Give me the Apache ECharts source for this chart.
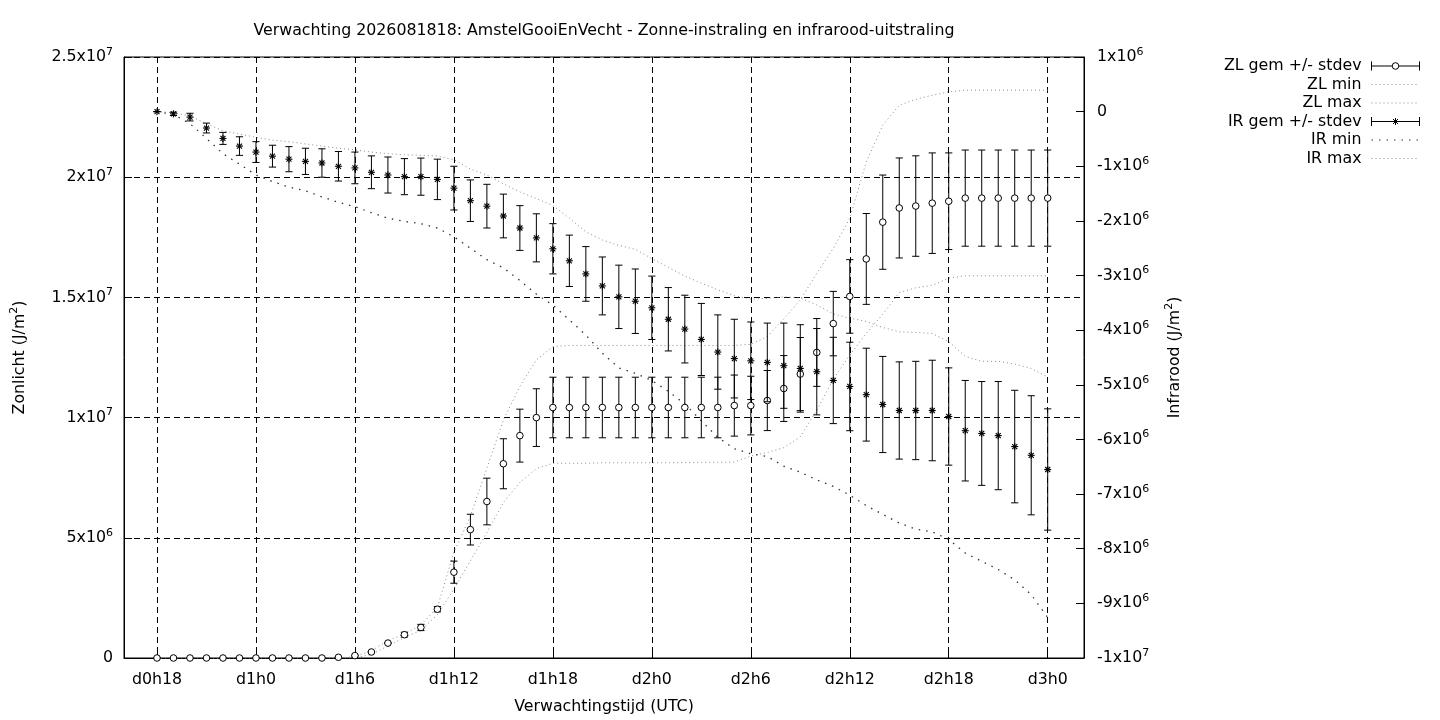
<!DOCTYPE html>
<html>
<head>
<meta charset="utf-8">
<script src="https://cdn.jsdelivr.net/npm/echarts@6/dist/echarts.min.js"></script>
<style>
html,body{margin:0;padding:0;background:#fff;}
#chart{width:1440px;height:720px;}
</style>
</head>
<body>
<div id="chart"></div>
<script>
// Forecast hours (hours since d0h0)
const hours = [18,19,20,21,22,23,24,25,26,27,28,29,30,31,32,33,34,35,36,37,38,39,40,41,42,43,44,45,
  46,47,48,49,50,51,52,53,54,55,56,57,58,59,60,61,62,63,64,65,66,67,68,69,70,71,72];
const tickHours = [18,24,30,36,42,48,54,60,66,72];

// Zonlicht (units of 10^6 J/m2)
const zlMean = [0,0,0,0,0,0,0,0,0,0,0,0.03,0.1,0.25,0.62,0.97,1.27,2.03,3.57,5.34,6.51,8.08,9.25,10.0,
  10.42,10.42,10.42,10.42,10.42,10.42,10.42,10.42,10.42,10.42,10.42,10.5,10.5,10.71,11.21,11.81,12.71,13.91,
  15.04,16.6,18.13,18.72,18.8,18.92,19.0,19.13,19.13,19.13,19.13,19.13,19.13];
const zlStd = [0,0,0,0,0,0,0,0,0,0,0,0.02,0.02,0.02,0.02,0.1,0.13,0.11,0.46,0.64,0.97,1.04,1.1,1.2,
  1.26,1.26,1.26,1.26,1.26,1.26,1.26,1.26,1.26,1.26,1.26,1.27,1.22,1.25,1.37,1.52,1.41,1.34,
  1.53,1.89,1.96,2.08,2.09,2.09,2.01,2.0,2.0,2.0,2.0,2.0,2.0];
const zlMin = [0,0,0,0,0,0,0,0,0,0,0,0,0,0.15,0.5,0.85,1.15,1.8,2.87,4.04,5.22,6.47,7.3,7.88,
  8.1,8.1,8.1,8.12,8.12,8.12,8.12,8.12,8.13,8.14,8.14,8.15,8.4,8.55,8.75,9.2,10.3,11.6,
  12.6,13.5,14.3,15.2,15.4,15.5,15.8,15.9,15.9,15.9,15.9,15.9,15.9];
const zlMax = [0,0,0,0,0,0,0,0,0,0,0,0,0.05,0.3,0.72,1.0,1.38,2.1,4.4,5.9,7.9,9.9,11.3,12.4,
  12.95,13.0,13.0,13.0,13.0,13.0,13.0,13.0,13.0,13.0,13.0,13.0,13.05,13.37,14.1,14.9,16.0,17.04,
  18.29,20.64,22.16,23.0,23.24,23.41,23.55,23.62,23.62,23.62,23.62,23.62,23.62];

// Infrarood (units of 10^6 J/m2)
const irMean = [0,-0.04,-0.10,-0.30,-0.49,-0.63,-0.74,-0.815,-0.87,-0.91,-0.94,-1.0,-1.03,-1.11,-1.16,-1.19,-1.19,-1.24,
  -1.40,-1.63,-1.73,-1.91,-2.13,-2.31,-2.51,-2.73,-2.97,-3.19,-3.39,-3.47,-3.59,-3.80,-3.98,-4.17,-4.40,
  -4.52,-4.56,-4.59,-4.65,-4.70,-4.76,-4.92,-5.03,-5.18,-5.36,-5.47,-5.47,-5.47,-5.58,-5.84,-5.89,-5.93,-6.13,-6.29,-6.55];
const irStd = [0,0.03,0.07,0.09,0.11,0.17,0.19,0.2,0.23,0.24,0.26,0.27,0.29,0.30,0.33,0.33,0.34,0.37,
  0.40,0.38,0.40,0.40,0.41,0.44,0.46,0.47,0.50,0.53,0.58,0.59,0.58,0.58,0.62,0.66,0.68,
  0.72,0.71,0.72,0.78,0.80,0.79,0.79,0.81,0.85,0.88,0.89,0.90,0.92,0.89,0.92,0.95,0.99,1.03,1.09,1.11];
const irMin = [0,-0.05,-0.22,-0.49,-0.77,-0.96,-1.16,-1.28,-1.38,-1.45,-1.56,-1.66,-1.74,-1.85,-1.95,-2.01,-2.05,-2.13,
  -2.29,-2.50,-2.71,-2.86,-3.09,-3.34,-3.54,-3.81,-4.09,-4.42,-4.69,-4.79,-4.92,-5.12,-5.35,-5.66,-5.96,
  -6.17,-6.26,-6.31,-6.49,-6.60,-6.74,-6.86,-7.02,-7.21,-7.37,-7.53,-7.64,-7.69,-7.83,-8.08,-8.23,-8.38,-8.57,-8.84,-9.26];
const irMax = [0,-0.02,-0.08,-0.22,-0.35,-0.41,-0.47,-0.52,-0.55,-0.59,-0.63,-0.67,-0.70,-0.74,-0.77,-0.79,-0.80,-0.81,
  -0.88,-1.05,-1.16,-1.32,-1.47,-1.59,-1.72,-1.95,-2.20,-2.35,-2.45,-2.52,-2.69,-2.85,-3.01,-3.14,-3.26,
  -3.37,-3.43,-3.42,-3.39,-3.41,-3.54,-3.70,-3.78,-3.84,-3.95,-4.03,-4.04,-4.06,-4.21,-4.48,-4.57,-4.57,-4.62,-4.70,-4.86];

const FONT = 'DejaVu Sans';
const FS = 15.8;
const SUPSTYLE = {s: {fontFamily: FONT, fontSize: 11, color: '#000', padding: [0, 0, 10, 0]}};
// values are in units of 10^6; format like gnuplot "2.5x10^7"
function sciLabel(v){
  if (Math.abs(v) < 1e-9) return '0';
  const e = Math.floor(Math.log10(Math.abs(v)) + 1e-9);
  const m = +(v / Math.pow(10, e)).toFixed(2);
  return m + 'x10{s|' + (e + 6) + '}';
}
function hourLabel(h){ return 'd' + Math.floor(h / 24) + 'h' + (h % 24); }

function pack(mean, std){ return hours.map((h, i) => [h, mean[i], std[i]]); }
function pairs(vals){ return hours.map((h, i) => [h, vals[i]]); }

const CAP = 3.6;
function errorBarItem(marker){
  return function(params, api){
    const x = api.value(0), y = api.value(1), e = api.value(2);
    const c = api.coord([x, y]);
    const t = api.coord([x, y + e]);
    const b = api.coord([x, y - e]);
    const ls = {stroke: '#000', lineWidth: 1};
    const children = [
      {type:'line', shape:{x1:c[0], y1:t[1], x2:c[0], y2:b[1]}, style: ls},
      {type:'line', shape:{x1:c[0]-CAP, y1:t[1], x2:c[0]+CAP, y2:t[1]}, style: ls},
      {type:'line', shape:{x1:c[0]-CAP, y1:b[1], x2:c[0]+CAP, y2:b[1]}, style: ls}
    ];
    if (marker === 'circle') {
      children.push({type:'circle', shape:{cx:c[0], cy:c[1], r:3.3}, style:{fill:'#fff', stroke:'#000', lineWidth:1}});
    } else {
      const s = 3.5, d = 2.5;
      const ss = {stroke: '#000', lineWidth: 1.1};
      children.push({type:'line', shape:{x1:c[0]-s, y1:c[1], x2:c[0]+s, y2:c[1]}, style: ss});
      children.push({type:'line', shape:{x1:c[0], y1:c[1]-s, x2:c[0], y2:c[1]+s}, style: ss});
      children.push({type:'line', shape:{x1:c[0]-d, y1:c[1]-d, x2:c[0]+d, y2:c[1]+d}, style: ss});
      children.push({type:'line', shape:{x1:c[0]-d, y1:c[1]+d, x2:c[0]+d, y2:c[1]-d}, style: ss});
    }
    return {type:'group', children};
  };
}

const iconCircle = 'path://M0 0L0 9M0 4.5L20.7 4.5M27.3 4.5L48 4.5M48 0L48 9M20.7 4.5A3.3 3.3 0 1 0 27.3 4.5A3.3 3.3 0 1 0 20.7 4.5';
const iconStar = 'path://M0 0L0 9M0 4.5L48 4.5M48 0L48 9M24 1L24 8M21.5 2L26.5 7M21.5 7L26.5 2';
const hiddenSymbol = {color: 'transparent', borderWidth: 0, opacity: 0};

const chart = echarts.init(document.getElementById('chart'));
chart.setOption({
  animation: false,
  backgroundColor: '#fff',
  textStyle: {fontFamily: FONT, color: '#000'},
  title: {
    text: 'Verwachting 2026081818: AmstelGooiEnVecht - Zonne-instraling en infrarood-uitstraling',
    left: 604, top: 23, textAlign: 'center', padding: 0,
    textStyle: {fontFamily: FONT, fontSize: FS, fontWeight: 'normal', color: '#000'}
  },
  legend: {
    orient: 'vertical', right: 20, top: 57, align: 'right', padding: 0,
    itemWidth: 48, itemHeight: 9, itemGap: 0.5, selectedMode: false,
    textStyle: {fontFamily: FONT, fontSize: FS, color: '#000', lineHeight: 18, padding: [0, 5, 0, 0]},
    lineStyle: {width: 1},
    data: [
      {name: 'ZL gem +/- stdev', icon: iconCircle, itemStyle: {color: '#fff', borderColor: '#000', borderWidth: 1}},
      {name: 'ZL min', itemStyle: hiddenSymbol},
      {name: 'ZL max', itemStyle: hiddenSymbol},
      {name: 'IR gem +/- stdev', icon: iconStar, itemStyle: {color: '#fff', borderColor: '#000', borderWidth: 1}},
      {name: 'IR min', itemStyle: hiddenSymbol},
      {name: 'IR max', itemStyle: hiddenSymbol}
    ]
  },
  grid: {left: 124, right: 356, top: 57, bottom: 61, show: true, borderColor: '#000', borderWidth: 1, backgroundColor: 'transparent'},
  xAxis: {
    type: 'value', min: 16, max: 74.2,
    name: 'Verwachtingstijd (UTC)', nameLocation: 'middle', nameGap: 41,
    nameTextStyle: {fontFamily: FONT, fontSize: FS, color: '#000'},
    axisLine: {show: true, onZero: false, lineStyle: {color: '#000', width: 1}},
    axisTick: {show: true, inside: true, length: 8, customValues: tickHours, lineStyle: {color: '#000'}},
    axisLabel: {show: true, margin: 14, customValues: tickHours, formatter: hourLabel, fontFamily: FONT, fontSize: FS, color: '#000'},
    splitLine: {show: true, lineStyle: {color: '#000', width: 1, type: [6, 4]}}
  },
  yAxis: [
    {
      type: 'value', position: 'left', min: 0, max: 25, interval: 5,
      name: 'Zonlicht (J/m{s|2})', nameLocation: 'middle', nameGap: 94, nameRotate: 90,
      nameTextStyle: {fontFamily: FONT, fontSize: FS, color: '#000', rich: SUPSTYLE},
      axisLine: {show: true, onZero: false, lineStyle: {color: '#000', width: 1}},
      axisTick: {show: true, inside: true, length: 8, lineStyle: {color: '#000'}},
      axisLabel: {margin: 11, formatter: sciLabel, fontFamily: FONT, fontSize: FS, color: '#000', rich: SUPSTYLE},
      splitLine: {show: true, lineStyle: {color: '#000', width: 1, type: [6, 4]}}
    },
    {
      type: 'value', position: 'right', min: -10, max: 1, interval: 1,
      name: 'Infrarood (J/m{s|2})', nameLocation: 'middle', nameGap: 80, nameRotate: 90,
      nameTextStyle: {fontFamily: FONT, fontSize: FS, color: '#000', rich: SUPSTYLE},
      axisLine: {show: true, onZero: false, lineStyle: {color: '#000', width: 1}},
      axisTick: {show: true, inside: true, length: 8, lineStyle: {color: '#000'}},
      axisLabel: {margin: 13, formatter: sciLabel, fontFamily: FONT, fontSize: FS, color: '#000', rich: SUPSTYLE},
      splitLine: {show: false}
    }
  ],
  series: [
    {
      name: 'ZL gem +/- stdev', type: 'custom', xAxisIndex: 0, yAxisIndex: 0,
      renderItem: errorBarItem('circle'), encode: {x: 0, y: 1},
      itemStyle: {color: '#fff', borderColor: '#000'},
      data: pack(zlMean, zlStd), z: 3
    },
    {
      name: 'ZL min', type: 'line', yAxisIndex: 0, symbol: 'none', silent: true,
      itemStyle: {color: '#8a8a8a'},
      lineStyle: {color: '#8a8a8a', width: 1, type: [1, 3]},
      data: pairs(zlMin), z: 2
    },
    {
      name: 'ZL max', type: 'line', yAxisIndex: 0, symbol: 'none', silent: true,
      itemStyle: {color: '#8a8a8a'},
      lineStyle: {color: '#8a8a8a', width: 1, type: [1, 3]},
      data: pairs(zlMax), z: 2
    },
    {
      name: 'IR gem +/- stdev', type: 'custom', xAxisIndex: 0, yAxisIndex: 1,
      renderItem: errorBarItem('star'), encode: {x: 0, y: 1},
      itemStyle: {color: '#fff', borderColor: '#000'},
      data: pack(irMean, irStd), z: 3
    },
    {
      name: 'IR min', type: 'line', yAxisIndex: 1, symbol: 'none', silent: true,
      itemStyle: {color: '#333'},
      lineStyle: {color: '#333', width: 1.3, type: [1.5, 6]},
      data: pairs(irMin), z: 2
    },
    {
      name: 'IR max', type: 'line', yAxisIndex: 1, symbol: 'none', silent: true,
      itemStyle: {color: '#8a8a8a'},
      lineStyle: {color: '#8a8a8a', width: 1, type: [1, 3]},
      data: pairs(irMax), z: 2
    }
  ]
});
</script>
</body>
</html>
